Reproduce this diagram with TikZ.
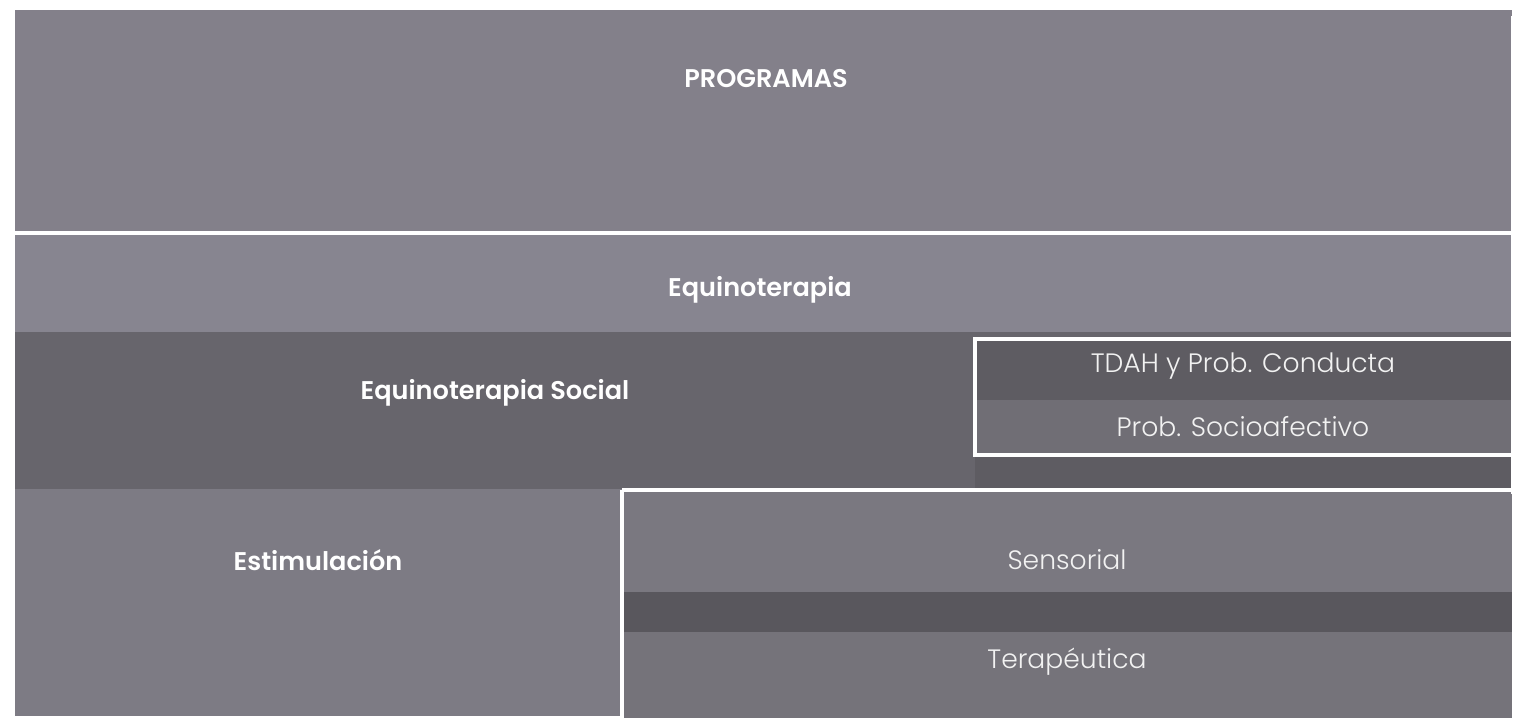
\documentclass[tikz,border=0pt]{standalone}
\usepackage{fontspec}
\IfFontExistsTF{Poppins SemiBold}{\setmainfont{Poppins}[BoldFont={Poppins SemiBold}]}{\setmainfont{Poppins}}
\IfFontExistsTF{Poppins Light}{\newfontfamily\lightfont{Poppins Light}}{\newfontfamily\lightfont{Poppins}}
\definecolor{cProg}{HTML}{83808A}
\definecolor{cEqui}{HTML}{878590}
\definecolor{cSoc}{HTML}{67656C}
\definecolor{cTdah}{HTML}{5E5C62}
\definecolor{cSocio}{HTML}{706E75}
\definecolor{cEst}{HTML}{7D7B84}
\definecolor{cSens}{HTML}{7A7880}
\definecolor{cStrip}{HTML}{59575D}
\definecolor{cTer}{HTML}{75737A}
\begin{document}
\begin{tikzpicture}[x=0.5pt,y=-0.5pt,
  boldlbl/.style={text=white, font=\fontsize{12.8}{15}\selectfont\bfseries, inner sep=0pt},
  lightlbl/.style={text=white!90!gray, font=\lightfont\fontsize{13.3}{15}\selectfont, inner sep=0pt},
  rule/.style={draw=white, line width=1.6pt}]
\useasboundingbox (0,0) rectangle (1524,725);
\fill[white] (0,0) rectangle (1524,725);
% bands
\fill[cProg] (15,10) rectangle (1512,233);
\fill[cEqui] (15,233) rectangle (1512,332);
\fill[cSoc] (15,332) rectangle (1512,489);
\fill[cTdah] (975,338) rectangle (1512,400);
\fill[cSocio] (975,400) rectangle (1512,455);
\fill[cTdah] (975,455) rectangle (1512,489);
\fill[cEst] (15,489) rectangle (622,716);
\fill[cSens] (622,489) rectangle (1512,592);
\fill[cStrip] (622,592) rectangle (1512,632);
\fill[cTer] (622,632) rectangle (1512,718);
% white rules
\coordinate (tl) at (15,233);
\coordinate (tr) at (1513,233);
\coordinate (rtop) at (1513,16);
\coordinate (rbot) at (1513,494);
\coordinate (bl) at (622,490);
\coordinate (br) at (1513,490);
\coordinate (vb) at (622,718);
\coordinate (ia) at (975,339);
\coordinate (ib) at (975,455);
\coordinate (ic) at (1513,455);
\coordinate (id) at (1513,339);
\draw[rule] (tl) -- (tr);
\draw[rule] (rtop) -- (rbot);
\draw[rule] (bl) -- (br);
\draw[rule] (bl) -- (vb);
\draw[rule] (id) -- (ia) -- (ib) -- (ic);
% labels
\node[boldlbl] (prog) at (766,79) {PROGRAMAS};
\node[boldlbl] (equi) at (760,290) {Equinoterapia};
\node[boldlbl] (soc) at (495,393) {Equinoterapia Social};
\node[lightlbl] (tdah) at (1243,366) {TDAH y Prob. Conducta};
\node[lightlbl] (socio) at (1243,427) {Prob. Socioafectivo};
\node[boldlbl] (est) at (318,560) {Estimulación};
\node[lightlbl] (sens) at (1067,560) {Sensorial};
\node[lightlbl] (ter) at (1067,662) {Terapéutica};
\end{tikzpicture}
\end{document}
